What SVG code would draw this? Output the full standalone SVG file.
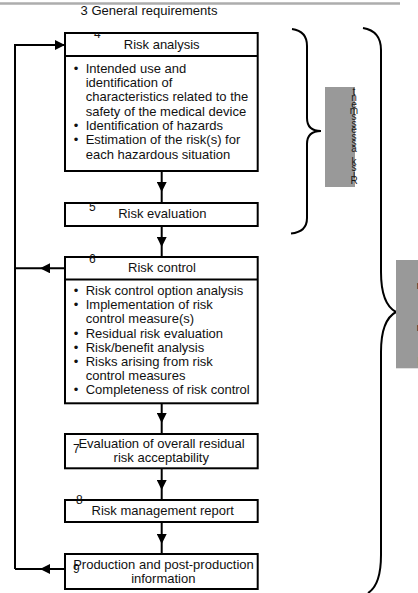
<svg xmlns="http://www.w3.org/2000/svg" width="418" height="593" viewBox="0 0 418 593">
  <style>
    .box { fill: #ffffff; stroke: #000000; stroke-width: 2; }
    .wire { fill: none; stroke: #000000; stroke-width: 2; }
    .brace { fill: none; stroke: #000000; stroke-width: 2; }
    .t { font-family: "Liberation Sans", Arial, sans-serif; font-size: 13px; fill: #111111; }
    .c { text-anchor: middle; }
    .num { font-family: "Liberation Sans", Arial, sans-serif; font-size: 12px; fill: #111111; }
    .side { fill: #999999; }
    .stack { font-family: "Liberation Sans", Arial, sans-serif; font-size: 10px; fill: #1a1a1a; text-anchor: middle; }
  </style>
  <defs>
    <marker id="arrow" viewBox="0 0 10 10" refX="10" refY="5" markerUnits="userSpaceOnUse" markerWidth="10" markerHeight="10" orient="auto">
      <path d="M0,0 L10,5 L0,10 z" fill="#000000"/>
    </marker>
    <clipPath id="clip4">
      <rect x="85" y="32.3" width="30" height="10"/>
    </clipPath>
  </defs>

  <!-- page rule and section heading -->
  <line x1="0" y1="3.5" x2="400" y2="3.5" stroke="#adadad" stroke-width="2.5"/>
  <text class="t" x="80.5" y="14.5" textLength="137" lengthAdjust="spacingAndGlyphs">3 General requirements</text>

  <!-- connectors -->
  <g id="connectors">
    <polyline class="wire" points="161.7,171 161.7,192 161.7,203" marker-mid="url(#arrow)"/>
    <polyline class="wire" points="161.7,226 161.7,247 161.7,257" marker-mid="url(#arrow)"/>
    <polyline class="wire" points="161.7,403 161.7,423 161.7,434" marker-mid="url(#arrow)"/>
    <polyline class="wire" points="161.7,468 161.7,490 161.7,500" marker-mid="url(#arrow)"/>
    <polyline class="wire" points="161.7,522 161.7,544 161.7,554" marker-mid="url(#arrow)"/>
    <!-- feedback loop -->
    <polyline class="wire" points="65,268.3 40,268.3 15,268.3" marker-mid="url(#arrow)"/>
    <polyline class="wire" points="65,569 40,569 15,569" marker-mid="url(#arrow)"/>
    <path class="wire" d="M15,569 L15,45 L65,45" marker-end="url(#arrow)"/>
  </g>

  <!-- 4 Risk analysis -->
  <g id="risk-analysis">
    <rect class="box" x="65" y="33" width="192.7" height="138"/>
    <line class="wire" x1="65" y1="56" x2="257.7" y2="56"/>
    <text class="num" x="94" y="38" clip-path="url(#clip4)">4</text>
    <text class="t c" x="161.7" y="48.5">Risk analysis</text>
    <text class="t c" x="76" y="72.7">•</text>
    <text class="t" x="85.7" y="72.7">Intended use and</text>
    <text class="t" x="85.7" y="87">identification of</text>
    <text class="t" x="85.7" y="101.3">characteristics related to the</text>
    <text class="t" x="85.7" y="115.6">safety of the medical device</text>
    <text class="t c" x="76" y="130">•</text>
    <text class="t" x="85.7" y="130">Identification of hazards</text>
    <text class="t c" x="76" y="144.3">•</text>
    <text class="t" x="85.7" y="144.3">Estimation of the risk(s) for</text>
    <text class="t" x="85.7" y="158.6">each hazardous situation</text>
  </g>

  <!-- 5 Risk evaluation -->
  <g id="risk-evaluation">
    <rect class="box" x="65" y="203" width="192.7" height="23"/>
    <text class="num" x="89" y="211.3">5</text>
    <text class="t c" x="162.3" y="217.5">Risk evaluation</text>
  </g>

  <!-- 6 Risk control -->
  <g id="risk-control">
    <rect class="box" x="65" y="257" width="192.7" height="146.3"/>
    <line class="wire" x1="65" y1="279.5" x2="257.7" y2="279.5"/>
    <text class="num" x="89" y="263.3">6</text>
    <text class="t c" x="162" y="272">Risk control</text>
    <text class="t c" x="76" y="295">•</text>
    <text class="t" x="85.7" y="295">Risk control option analysis</text>
    <text class="t c" x="76" y="309.2">•</text>
    <text class="t" x="85.7" y="309.2">Implementation of risk</text>
    <text class="t" x="85.7" y="323.4">control measure(s)</text>
    <text class="t c" x="76" y="337.6">•</text>
    <text class="t" x="85.7" y="337.6">Residual risk evaluation</text>
    <text class="t c" x="76" y="351.8">•</text>
    <text class="t" x="85.7" y="351.8">Risk/benefit analysis</text>
    <text class="t c" x="76" y="366">•</text>
    <text class="t" x="85.7" y="366">Risks arising from risk</text>
    <text class="t" x="85.7" y="380.2">control measures</text>
    <text class="t c" x="76" y="394.4">•</text>
    <text class="t" x="85.7" y="394.4">Completeness of risk control</text>
  </g>

  <!-- 7 Evaluation of overall residual risk acceptability -->
  <g id="overall-residual-risk">
    <rect class="box" x="65" y="434" width="192.7" height="34.3"/>
    <text class="num" x="73" y="452.7">7</text>
    <text class="t c" x="161.5" y="447.7">Evaluation of overall residual</text>
    <text class="t c" x="161.3" y="461.7">risk acceptability</text>
  </g>

  <!-- 8 Risk management report -->
  <g id="risk-management-report">
    <rect class="box" x="65" y="500" width="192.7" height="22"/>
    <text class="num" x="76" y="504.3">8</text>
    <text class="t c" x="162.7" y="515">Risk management report</text>
  </g>

  <!-- 9 Production and post-production information -->
  <g id="production-information">
    <rect class="box" x="65" y="554" width="192.7" height="35"/>
    <text class="num" x="73" y="573.3">9</text>
    <text class="t c" x="163.5" y="569">Production and post-production</text>
    <text class="t c" x="163.3" y="582.5">information</text>
  </g>

  <!-- Risk assessment bracket -->
  <g id="risk-assessment">
    <path class="brace" d="M292,29 Q307,31 307,46 L307,118 Q307,131 321,131 Q307,131 307,144 L307,218 Q307,232 291,233.5"/>
    <rect class="side" x="325" y="87" width="30" height="100"/>
    <text class="stack" x="354 354 354 354 354 354 354 354 354 354 354 354 354 354 354" y="184 177.6 171.3 164.9 158.6 152.2 145.9 139.5 133.1 126.8 120.4 114.1 107.7 101.4 95">Risk assessment</text>
  </g>

  <!-- Risk management bracket -->
  <g id="risk-management">
    <path class="brace" d="M363,28 Q381,31 381,50 L381,272 Q381,304 396,312 Q381,320 381,352 L381,555 Q381,585 368,593"/>
    <rect class="side" x="396" y="260" width="24" height="108.3"/>
    <text class="stack" x="421 421 421 421 421 421 421 421 421 421 421 421 421 421 421" y="365 358.1 351.2 344.3 337.4 330.5 323.6 316.7 309.8 302.9 296 289.1 282.2 275.3 268.4">Risk management</text>
  </g>
</svg>
